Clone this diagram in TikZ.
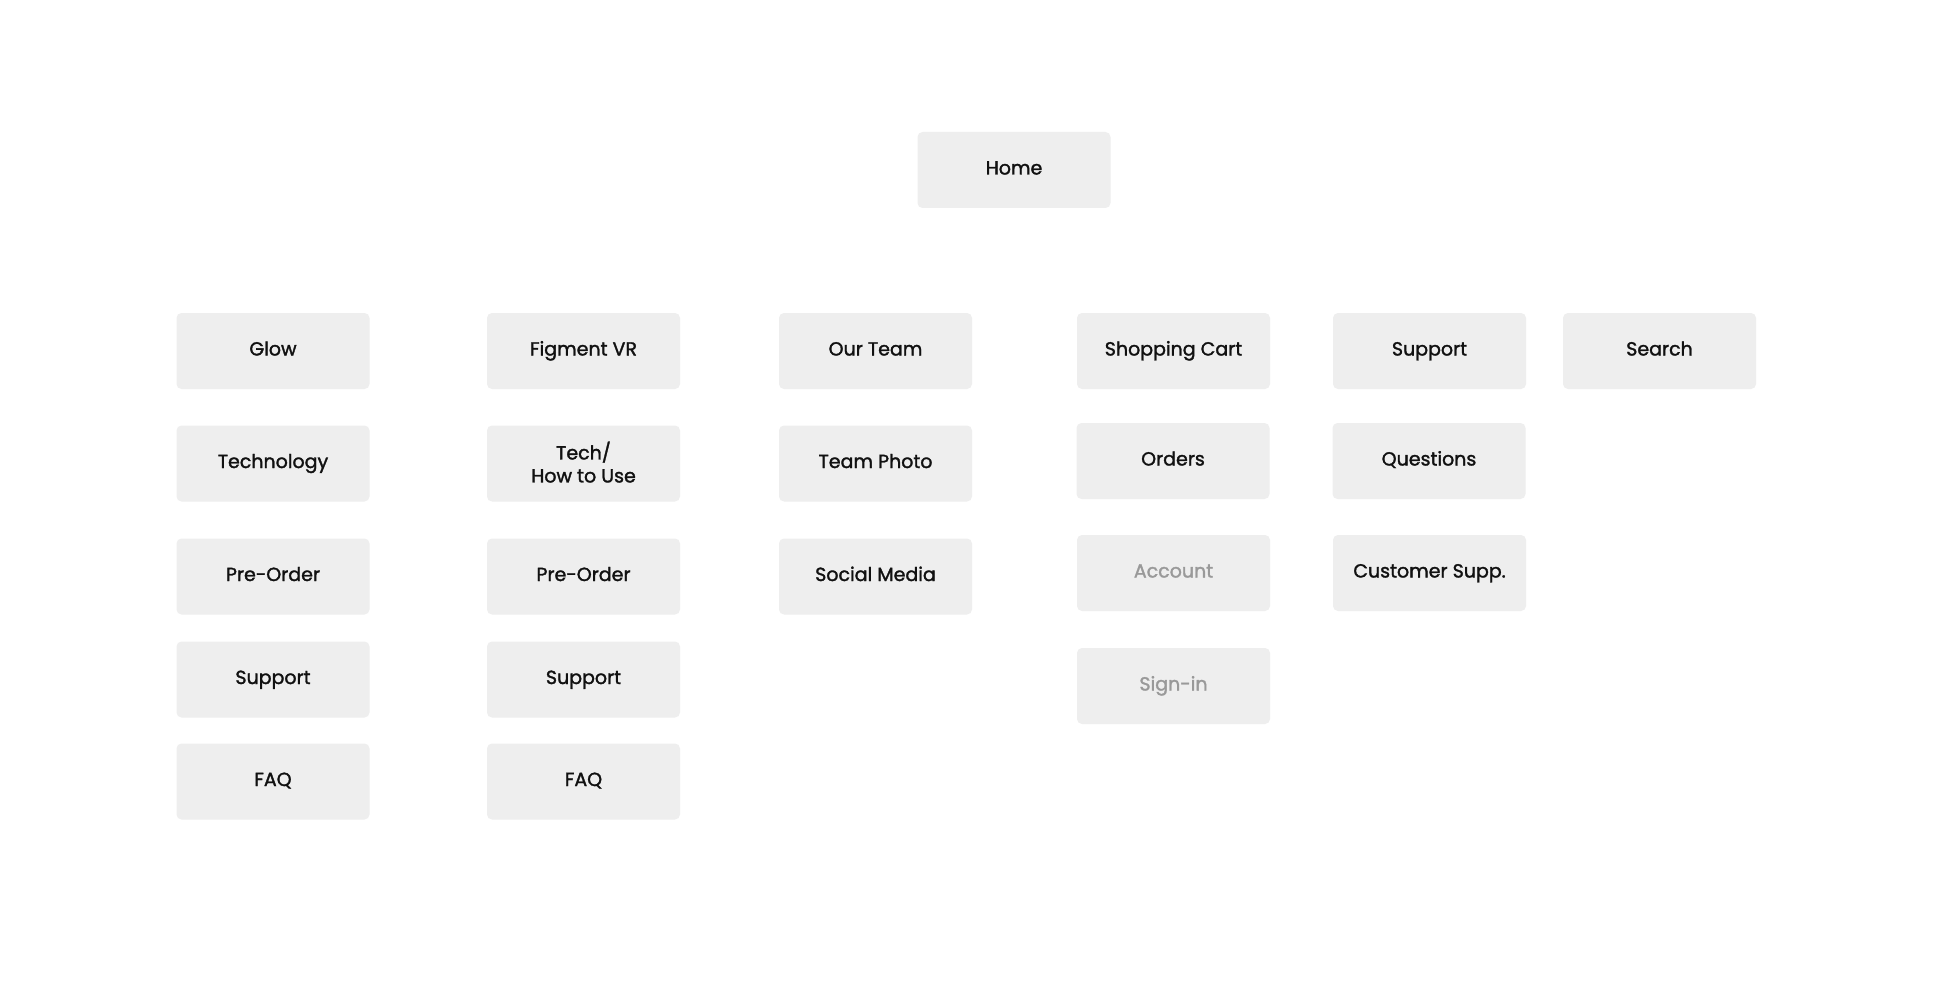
\documentclass[tikz,border=0pt]{standalone}
\usepackage{fontspec}
\setmainfont{Poppins}[FakeBold=1.6]
\definecolor{boxfill}{HTML}{EEEEEE}
\definecolor{txt}{HTML}{111111}
\definecolor{dim}{HTML}{999999}
\tikzset{
  page/.style={x=1pt,y=-1pt},
  cardbase/.style={fill=boxfill, draw=none, rounded corners=5pt, minimum width=193pt, minimum height=76pt, inner sep=0pt, align=center, text=txt, font=\fontsize{19}{23}\selectfont},
  card/.style={cardbase, text height=14pt, text depth=5pt},
  faded/.style={text=dim}
}
\begin{document}
\begin{tikzpicture}[page]
\useasboundingbox[fill=white] (0,0) rectangle (1935,1000);
\node[card] (home) at (1014,170) {Home};
% column 1
\node[card] (glow) at (273,351) {Glow};
\node[card] (tech1) at (273,463.5) {Technology};
\node[card] (pre1) at (273,576.5) {Pre-Order};
\node[card] (sup1) at (273,679.5) {Support};
\node[card] (faq1) at (273,781.5) {FAQ};
% column 2
\node[card] (fig) at (583.5,351) {Figment VR};
\node[cardbase, text depth=3pt] (tech2) at (583.5,463.5) {Tech/\\How to Use};
\node[card] (pre2) at (583.5,576.5) {Pre-Order};
\node[card] (sup2) at (583.5,679.5) {Support};
\node[card] (faq2) at (583.5,781.5) {FAQ};
% column 3
\node[card] (team) at (875.5,351) {Our Team};
\node[card] (photo) at (875.5,463.5) {Team Photo};
\node[card] (social) at (875.5,576.5) {Social Media};
% column 4
\node[card] (cart) at (1173.5,351) {Shopping Cart};
\node[card] (orders) at (1173,461) {Orders};
\node[card,faded] (account) at (1173.5,573) {Account};
\node[card,faded] (signin) at (1173.5,686) {Sign-in};
% column 5
\node[card] (sup5) at (1429.5,351) {Support};
\node[card] (quest) at (1429,461) {Questions};
\node[card] (cust) at (1429.5,573) {Customer Supp.};
% column 6
\node[card] (search) at (1659.5,351) {Search};
\end{tikzpicture}
\end{document}
